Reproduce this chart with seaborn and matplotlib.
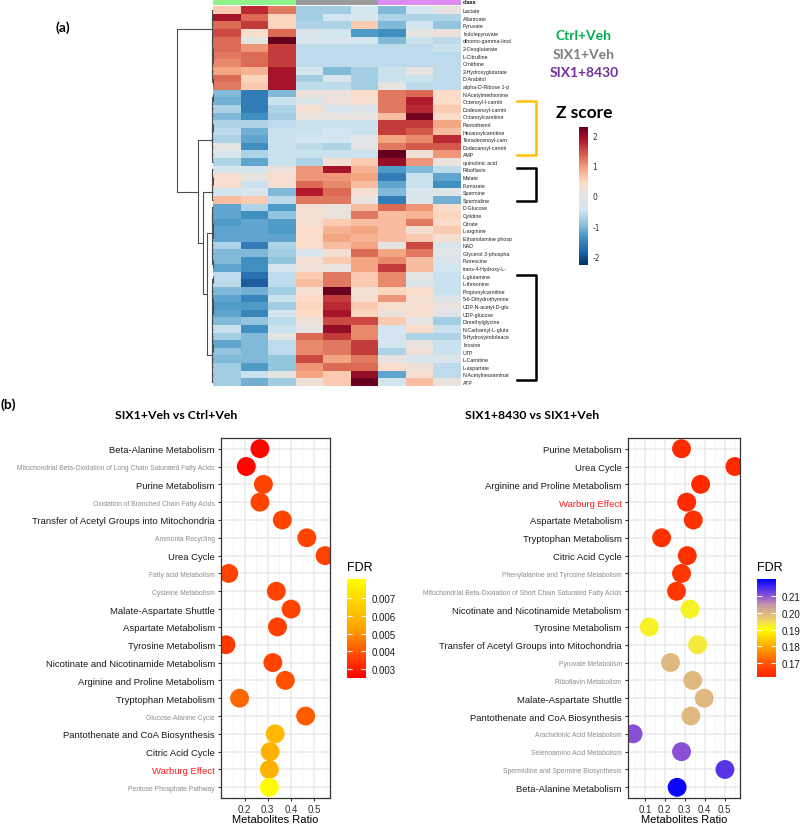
import numpy as np
import pandas as pd
import matplotlib
matplotlib.use("Agg")
import matplotlib.pyplot as plt
import matplotlib.transforms as mtransforms
import seaborn as sns
from matplotlib.colors import LinearSegmentedColormap, ListedColormap

# ---------------- data: heatmap (a) ----------------
metabolites = [
    "Lactate", "Allantoate", "Pyruvate", "Indolepyruvate", "dihomo-gamma-linol",
    "2-Oxoglutarate", "L-Citrulline", "Ornithine", "2-Hydroxyglutarate", "D-Arabitol",
    "alpha-D-Ribose 1-p", "N-Acetylmethionine", "Octenoyl-l-carniti", "Dodecenoyl-carniti",
    "Octanoylcarnitine", "Pantothenol", "Hexanoylcarnitine", "Tetradecenoyl-carn",
    "Dodecanoyl-carniti", "AMP", "quinolinic acid", "Riboflavin", "Malate", "Fumarate",
    "Spermine", "Spermidine", "D-Glucose", "Cytidine", "Citrate", "L-arginine",
    "Ethanolamine phosp", "NAD", "Glycerol 3-phospha", "Putrescine", "trans-4-Hydroxy-L-",
    "L-glutamine", "L-threonine", "Propionylcarnitine", "5-6-Dihydrothymine",
    "UDP-N-acetyl-D-glu", "UDP-glucose", "Dimethylglycine", "N-Carbamyl-L-gluta",
    "5-Hydroxyindoleace", "Inosine", "UTP", "L-Carnitine", "L-aspartate",
    "N-Acetylneuraminat", "ATP",
]
groups = ["Ctrl+Veh", "SIX1+Veh", "SIX1+8430"]

z_ctrl_veh = [
    [0.6, 1.7, 1.2], [1.9, 1.3, 0.5], [1.3, 1.6, 0.5], [1.5, 0.4, 1.3], [1.3, 0.0, 2.3],
    [1.3, 1.0, 1.6], [1.2, 1.3, 1.6], [1.1, 1.3, 1.6], [0.9, 0.8, 1.9], [1.3, 0.5, 1.9],
    [1.2, 0.6, 1.9], [-1.0, -1.6, -1.0], [-1.1, -1.6, -0.5], [-0.7, -1.6, -0.7],
    [-1.0, -1.4, -0.8], [-0.7, -0.7, -0.6], [-0.6, -1.1, -0.5], [-0.7, -1.2, -0.5],
    [0.0, -1.4, -0.5], [-0.3, -0.7, -0.5], [-0.7, -1.2, -0.5], [-0.35, -0.35, 0.15],
    [0.35, 0.05, 0.35], [0.35, -0.5, 0.3], [-0.4, -0.3, -1.0], [0.7, 0.6, -0.6],
    [-1.2, -0.7, -1.3], [-1.2, -1.4, -0.9], [-1.3, -1.2, -1.3], [-1.2, -1.2, -1.3],
    [-1.2, -1.2, -1.2], [-0.7, -1.6, -0.7], [-1.0, -1.0, -0.8], [-1.0, -1.4, -0.9],
    [-1.2, -1.4, -0.4], [-0.6, -1.7, -0.6], [-0.6, -1.9, -0.6], [-1.0, -1.1, -0.8],
    [-1.2, -1.5, -0.5], [-1.3, -1.3, -0.8], [-1.2, -1.5, -0.4], [-1.0, -0.9, -0.6],
    [-0.5, -1.4, -0.5], [-0.8, -1.0, 0.0], [-1.2, -1.0, -0.6], [-0.9, -1.0, -0.6],
    [-1.0, -1.0, -0.9], [-0.8, -1.3, -0.9], [-0.8, -0.5, 0.0], [-0.8, -1.1, -0.8],
]
z_six1_veh = [
    [-0.8, -0.8, -0.4], [-0.8, -0.4, -0.3], [-0.7, -0.7, 0.6], [-0.2, -0.4, -1.3],
    [-0.3, -0.3, -0.4], [-0.6, -0.6, -0.6], [-0.6, -0.6, -0.6], [-0.6, -0.6, -0.6],
    [-0.4, -1.0, -0.8], [-0.8, -0.3, -0.8], [-0.6, -0.6, -0.8], [0.15, 0.15, 0.4],
    [-0.2, 0.15, 0.3], [0.3, -0.3, -0.2], [0.1, 0.1, 0.05], [-0.5, -0.5, -0.5],
    [-0.5, -0.4, -0.5], [-0.4, -0.4, -0.1], [-0.6, -0.7, 0.0], [-0.5, -0.5, -0.5],
    [-0.7, 0.3, 0.6], [1.0, 1.9, 0.8], [1.0, 1.0, 0.9], [1.3, 1.1, 0.7], [1.8, 1.3, 0.3],
    [1.2, 1.2, 0.1], [0.3, 0.1, 0.7], [0.3, 0.15, 1.2], [0.3, 0.6, 0.7], [0.4, 0.8, 0.9],
    [0.4, 0.9, 0.8], [0.4, 0.7, 0.9], [-0.3, 0.3, 1.3], [0.3, 0.6, 0.9], [0.2, 0.1, 0.9],
    [0.6, 1.2, 0.6], [0.7, 1.2, 0.6], [0.3, 2.3, 0.3], [0.45, 1.6, 0.3], [0.5, 1.7, 0.6],
    [0.45, 1.9, 0.5], [0.2, 1.5, 1.5], [0.0, 2.0, 1.1], [1.3, 1.6, 1.1], [1.1, 1.2, 1.6],
    [1.1, 1.2, 1.6], [1.5, 0.9, 1.2], [1.0, 1.3, 1.3], [0.9, 0.6, 2.0], [0.2, 0.6, 2.3],
]
z_six1_8430 = [
    [-1.0, -0.4, 0.05], [-0.7, -0.7, -0.7], [-1.0, -0.4, -0.9], [-1.4, 0.0, 0.15],
    [-1.0, -0.5, -0.6], [-0.6, -0.6, -0.5], [-0.6, -0.6, -0.6], [-0.6, -0.6, -0.6],
    [-0.5, 0.05, -0.6], [-0.5, -0.5, -0.6], [0.05, -0.6, -0.6], [1.2, 1.3, 0.45],
    [1.2, 1.8, 0.45], [1.2, 1.7, 0.6], [0.7, 2.2, 0.4], [1.6, 1.6, 0.9], [1.6, 1.4, 0.7],
    [0.9, 1.1, 1.7], [1.2, 1.4, 1.4], [2.4, 0.2, 1.0], [2.0, 1.0, 0.1], [-1.3, -1.0, -0.6],
    [-1.6, -0.5, -1.2], [-1.2, -0.5, -1.4], [-1.0, -0.3, -0.1], [-1.6, -0.2, -1.1],
    [1.3, 1.0, 0.4], [0.7, 0.8, 0.5], [0.7, 1.2, 0.4], [0.7, 0.3, 0.6], [0.7, 0.6, 0.3],
    [0.0, 1.5, -0.3], [0.9, 1.2, -0.1], [1.1, 0.7, -0.3], [1.6, 0.7, -0.4], [1.1, 0.0, -0.5],
    [1.1, -0.2, -0.5], [0.5, 0.4, -0.5], [1.0, 0.3, -0.2], [0.35, 0.3, 0.1],
    [0.15, 0.35, -0.1], [0.6, 0.0, -0.8], [-0.4, 0.4, -0.5], [-0.4, -0.7, -0.7],
    [-0.4, 0.1, -0.5], [-0.7, 0.2, -0.5], [0.05, -0.3, -0.2], [0.4, 0.2, -0.6],
    [-1.2, 0.3, -0.6], [-0.4, 0.7, 0.1],
]

# row dendrogram: sizes of the main clusters (top to bottom) and the joining heights
cluster_sizes = [11, 10, 5, 9, 15]
join_heights = [1.0, 0.42, 0.28, 0.17]   # root, then nested down the lower branch

# ---------------- data: dot plots (b) ----------------
left_pathways = [
    "Beta-Alanine Metabolism", "Mitochondrial Beta-Oxidation of Long Chain Saturated Fatty Acids",
    "Purine Metabolism", "Oxidation of Branched Chain Fatty Acids",
    "Transfer of Acetyl Groups into Mitochondria", "Ammonia Recycling", "Urea Cycle",
    "Fatty acid Metabolism", "Cysteine Metabolism", "Malate-Aspartate Shuttle",
    "Aspartate Metabolism", "Tyrosine Metabolism", "Nicotinate and Nicotinamide Metabolism",
    "Arginine and Proline Metabolism", "Tryptophan Metabolism", "Glucose-Alanine Cycle",
    "Pantothenate and CoA Biosynthesis", "Citric Acid Cycle", "Warburg Effect",
    "Pentose Phosphate Pathway",
]
left_ratio = [0.266, 0.207, 0.281, 0.266, 0.363, 0.469, 0.548, 0.131, 0.337, 0.401,
              0.342, 0.119, 0.322, 0.376, 0.178, 0.464, 0.332, 0.310, 0.307, 0.307]
left_fdr = [0.0026, 0.0026, 0.0037, 0.0037, 0.0037, 0.0037, 0.0037, 0.0037, 0.0037, 0.0037,
            0.0036, 0.0035, 0.0037, 0.0039, 0.0043, 0.0041, 0.0060, 0.0058, 0.0058, 0.0080]
left_style = ["main", "minor", "main", "minor", "main", "minor", "main", "minor", "minor",
              "main", "main", "main", "main", "main", "main", "minor", "main", "main",
              "red", "minor"]

right_pathways = [
    "Purine Metabolism", "Urea Cycle", "Arginine and Proline Metabolism", "Warburg Effect",
    "Aspartate Metabolism", "Tryptophan Metabolism", "Citric Acid Cycle",
    "Phenylalanine and Tyrosine Metabolism",
    "Mitochondrial Beta-Oxidation of Short Chain Saturated Fatty Acids",
    "Nicotinate and Nicotinamide Metabolism", "Tyrosine Metabolism",
    "Transfer of Acetyl Groups into Mitochondria", "Pyruvate Metabolism",
    "Riboflavin Metabolism", "Malate-Aspartate Shuttle", "Pantothenate and CoA Biosynthesis",
    "Arachidonic Acid Metabolism", "Selenoamino Acid Metabolism",
    "Spermidine and Spermine Biosynthesis", "Beta-Alanine Metabolism",
]
right_ratio = [0.284, 0.552, 0.380, 0.310, 0.343, 0.184, 0.313, 0.284, 0.259, 0.326,
               0.122, 0.365, 0.229, 0.340, 0.398, 0.331, 0.041, 0.284, 0.502, 0.262]
right_fdr = [0.163, 0.163, 0.163, 0.163, 0.164, 0.164, 0.164, 0.165, 0.165, 0.192,
             0.192, 0.193, 0.1995, 0.1995, 0.1995, 0.1995, 0.2105, 0.2105, 0.214, 0.2195]
right_style = ["main", "main", "main", "red", "main", "main", "main", "minor", "minor",
               "main", "main", "main", "minor", "minor", "main", "main", "minor", "minor",
               "minor", "main"]

# ---------------- styling ----------------
W, H = 800, 829
GG = "Liberation Sans"
HEAD = "Lato"


def box(x0, y0, x1, y1):
    """pixel box (top-left origin) -> figure fraction rect"""
    return [x0 / W, 1 - y1 / H, (x1 - x0) / W, (y1 - y0) / H]


zcmap = LinearSegmentedColormap.from_list("z", [
    "#053061", "#2166AC", "#4393C3", "#92C5DE", "#D1E5F0", "#E4E4E4",
    "#FDDBC7", "#F4A582", "#D6604D", "#B2182B", "#67001F"])
left_cmap = LinearSegmentedColormap.from_list("l", ["#FF0000", "#FFA100", "#FFFF00"])
right_lo, right_hi = 0.1616, 0.2202
_stops = [(0.1616, "#FF2200"), (0.17, "#FF5500"), (0.18, "#FFA800"), (0.19, "#FFFF00"),
          (0.195, "#EEDC60"), (0.20, "#DDB583"), (0.205, "#C493A8"), (0.21, "#9055D5"),
          (0.2202, "#0000FF")]
right_cmap = LinearSegmentedColormap.from_list(
    "r", [((v - right_lo) / (right_hi - right_lo), c) for v, c in _stops])

fig = plt.figure(figsize=(W / 100, H / 100), dpi=100)

# ---------------- (a) heatmap ----------------
zmat = np.hstack([np.array(z_ctrl_veh), np.array(z_six1_veh), np.array(z_six1_8430)])
cols = [f"{g} {i + 1}" for g in groups for i in range(3)]
zdf = pd.DataFrame(zmat, index=metabolites, columns=cols)

ax_hm = fig.add_axes(box(213, 7.3, 461, 386.7))
ax_zcb = fig.add_axes(box(579, 128, 588, 266))
sns.heatmap(zdf, ax=ax_hm, cmap=zcmap, vmin=-2.28, vmax=2.28, cbar_ax=ax_zcb,
            xticklabels=False, yticklabels=True, linewidths=0)
ax_hm.yaxis.tick_right()
ax_hm.tick_params(axis="y", length=0, pad=1.5)
for t in ax_hm.get_yticklabels():
    t.set_rotation(0)
    t.set_fontsize(3.8)
    t.set_fontfamily(GG)
    t.set_color("#222222")
ax_hm.set_ylabel("")

ax_zcb.set_yticks([-2, -1, 0, 1, 2])
ax_zcb.set_yticklabels(["-2", "-1", "0", "1", "2"])
ax_zcb.tick_params(length=0, labelsize=5.5, pad=3, colors="#333333")
for s in ax_zcb.spines.values():
    s.set_visible(False)

# class annotation bar
ax_cls = fig.add_axes(box(213, 0, 461, 5.7))
codes = pd.DataFrame([[groups.index(c.rsplit(" ", 1)[0]) for c in cols]], columns=cols)
sns.heatmap(codes, ax=ax_cls, cmap=ListedColormap(["#8FF58A", "#9B9B9B", "#DC8CF2"]),
            vmin=-0.5, vmax=2.5, cbar=False, xticklabels=False, yticklabels=False)
fig.text(463 / W, 1 - 3 / H, "class", fontsize=4, fontweight="bold", family=GG,
         va="center", ha="left")


# row dendrogram (clusters keep the row order; fine structure from adjacent merges)
def adjacent_merge(nodes, scale=0.012):
    segs = []
    while len(nodes) > 1:
        d = [np.linalg.norm(nodes[i]["m"] - nodes[i + 1]["m"]) for i in range(len(nodes) - 1)]
        i = int(np.argmin(d))
        a, b = nodes[i], nodes[i + 1]
        h = max(d[i] * scale, a["h"], b["h"]) + 0.003
        segs.append(([a["h"], h, h, b["h"]], [a["p"], a["p"], b["p"], b["p"]]))
        n = a["n"] + b["n"]
        nodes[i:i + 2] = [{"p": (a["p"] + b["p"]) / 2, "h": h,
                           "m": (a["m"] * a["n"] + b["m"] * b["n"]) / n, "n": n}]
    return nodes[0], segs


ax_den = fig.add_axes(box(177, 7.3, 213, 386.7))
segments = []
tops = []
start = 0
for size in cluster_sizes:
    leaves = [{"p": start + k + 0.5, "h": 0.0, "m": zmat[start + k], "n": 1} for k in range(size)]
    top, segs = adjacent_merge(leaves)
    segments += segs
    tops.append(top)
    start += size

# nested joins from the bottom: (4,5) -> (3,.) -> (2,.) -> (1,.)
node = tops[-1]
for k, h in zip(range(len(tops) - 2, -1, -1), reversed(join_heights)):
    a = tops[k]
    segments.append(([a["h"], h, h, node["h"]], [a["p"], a["p"], node["p"], node["p"]]))
    node = {"p": (a["p"] + node["p"]) / 2, "h": h}

for xs, ys in segments:
    ax_den.plot(xs, ys, color="#4D4D4D", lw=0.8, clip_on=False, solid_capstyle="butt")
ax_den.set_xlim(1.0, 0.0)
ax_den.set_ylim(len(metabolites), 0)
ax_den.axis("off")

# brackets next to the row labels
blend = mtransforms.blended_transform_factory(fig.transFigure, ax_hm.transData)
bx0, bx1 = 517 / W, 536 / W
for (r0, r1), col in [((12.5, 19.6), "#FFC000"), ((21.3, 25.65), "black"),
                      ((35.4, 49.2), "black")]:
    ax_hm.plot([bx0, bx1, bx1, bx0], [r0, r0, r1, r1], color=col, lw=1.8,
               transform=blend, clip_on=False, solid_joinstyle="round")

fig.text(63 / W, 1 - 28 / H, "(a)", fontsize=10, fontweight="bold", family=HEAD,
         ha="center", va="center")
for txt, col, y in [("Ctrl+Veh", "#00B050", 36), ("SIX1+Veh", "#7F7F7F", 55),
                    ("SIX1+8430", "#7030A0", 73)]:
    fig.text(584 / W, 1 - y / H, txt, color=col, fontsize=10, fontweight="bold",
             family=HEAD, ha="center", va="center")
fig.text(584 / W, 1 - 113 / H, "Z score", fontsize=12.5, fontweight="bold", family=HEAD,
         ha="center", va="center")

# ---------------- (b) dot plots ----------------
fig.text(8 / W, 1 - 405 / H, "(b)", fontsize=10, fontweight="bold", family=HEAD,
         ha="center", va="center")

label_style = {"main": dict(fontsize=6.8, color="#1A1A1A"),
               "minor": dict(fontsize=4.9, color="#8C8C8C"),
               "red": dict(fontsize=6.8, color="#FF1A1A")}


def dot_panel(rect, cb_rect, title, title_x, names, ratio, fdr, style, cmap, lo, hi,
              xmajor, cb_ticks, cb_labels):
    ax = fig.add_axes(rect)
    df = pd.DataFrame({"pathway": names, "ratio": ratio, "fdr": fdr})
    df["pos"] = np.arange(len(df))
    sns.scatterplot(data=df, x="ratio", y="pos", hue="fdr", palette=cmap,
                    hue_norm=(lo, hi), s=185, edgecolor="none", legend=False, ax=ax)
    r0, r1 = df["ratio"].min(), df["ratio"].max()
    pad = 0.05 * (r1 - r0)
    ax.set_xlim(r0 - pad, r1 + pad)
    ax.set_ylim(len(df) - 0.4, -0.6)
    ax.set_xticks(xmajor)
    ax.set_xticks([v + 0.05 for v in [xmajor[0] - 0.1] + list(xmajor)], minor=True)
    ax.set_xticklabels([f"{v:.1f}" for v in xmajor])
    ax.set_yticks(df["pos"])
    ax.set_yticklabels(df["pathway"])
    for t, st in zip(ax.get_yticklabels(), style):
        t.set_fontsize(label_style[st]["fontsize"])
        t.set_color(label_style[st]["color"])
        t.set_fontfamily(GG)
    for t in ax.get_xticklabels():
        t.set_fontfamily(GG)
    ax.tick_params(axis="both", which="major", length=2.5, width=0.8, color="#333333",
                   pad=2)
    ax.tick_params(axis="x", labelsize=7, labelcolor="#333333", pad=1.5)
    ax.tick_params(axis="x", which="minor", length=0)
    ax.grid(True, which="major", color="#EBEBEB", lw=1.1)
    ax.grid(True, which="minor", axis="x", color="#F2F2F2", lw=0.6)
    ax.set_axisbelow(True)
    for s in ax.spines.values():
        s.set_color("#333333")
        s.set_linewidth(0.9)
    ax.set_ylabel("")
    ax.set_xlabel("Metabolites Ratio", fontsize=8, family=GG, labelpad=0.5)
    fig.text(title_x / W, 1 - 416 / H, title, fontsize=8.8, fontweight="bold",
             family=HEAD, ha="center", va="center")

    cax = fig.add_axes(cb_rect)
    sm = plt.cm.ScalarMappable(norm=plt.Normalize(lo, hi), cmap=cmap)
    cb = fig.colorbar(sm, cax=cax)
    cb.outline.set_visible(False)
    cb.set_ticks(cb_ticks)
    cb.set_ticklabels(cb_labels)
    cax.tick_params(direction="in", color="white", length=3.5, width=0.8, left=True,
                    right=True, labelsize=7, labelcolor="#1A1A1A", pad=4)
    for t in cax.get_yticklabels():
        t.set_fontfamily(GG)
    return ax


dot_panel(box(221, 439, 330, 799), box(347, 580, 366, 679), "SIX1+Veh vs Ctrl+Veh", 176,
          left_pathways, left_ratio, left_fdr, left_style, left_cmap, 0.0025, 0.0081,
          [0.2, 0.3, 0.4, 0.5], [0.003, 0.004, 0.005, 0.006, 0.007],
          ["0.003", "0.004", "0.005", "0.006", "0.007"])
fig.text(347 / W, 1 - 568 / H, "FDR", fontsize=9, family=GG, ha="left", va="center")

dot_panel(box(628, 439, 740, 799), box(757, 580, 776, 678), "SIX1+8430 vs SIX1+Veh", 532,
          right_pathways, right_ratio, right_fdr, right_style, right_cmap, right_lo, right_hi,
          [0.1, 0.2, 0.3, 0.4, 0.5], [0.17, 0.18, 0.19, 0.20, 0.21],
          ["0.17", "0.18", "0.19", "0.20", "0.21"])
fig.text(757 / W, 1 - 568 / H, "FDR", fontsize=9, family=GG, ha="left", va="center")

fig.savefig("out.png", dpi=100, facecolor="white")
